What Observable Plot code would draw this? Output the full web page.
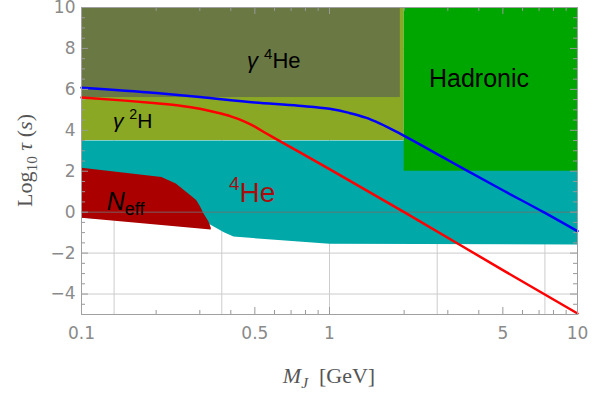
<!DOCTYPE html>
<html><head><meta charset="utf-8">
<script src="https://cdn.jsdelivr.net/npm/d3@7"></script>
<script src="https://cdn.jsdelivr.net/npm/@observablehq/plot@0.6"></script>
<style>body{margin:0;background:#fff} svg{display:block}</style>
</head><body><div id="chart"></div>
<script>
// ---- data (x = M_J in GeV, y = log10 tau in s) ----
const blueX = [0.1, 0.2, 0.3, 0.5, 0.75, 1, 1.2, 1.4, 1.6, 2, 3, 5, 7.3, 10];
const blueY = [6.08, 5.82, 5.63, 5.36, 5.2, 5.05, 4.85, 4.62, 4.33, 3.73, 2.55, 1.07, 0, -0.93];
const redX = [0.1, 0.15, 0.2, 0.25, 0.3, 0.35, 0.4, 0.45, 0.5, 0.55, 0.6, 1, 2, 5, 10];
const redY = [5.6, 5.45, 5.32, 5.2, 5.05, 4.87, 4.68, 4.45, 4.18, 3.88, 3.62, 2.1, 0, -2.83, -4.95];
// 4He excluded region (polygon)
const he4X = [0.1, 10, 10, 1, 0.53, 0.41, 0.375, 0.33, 0.1];
const he4Y = [3.5, 3.5, -1.58, -1.54, -1.3, -1.19, -0.98, -0.6, -0.27];
// N_eff excluded region (polygon)
const neffX = [0.1, 0.21, 0.24, 0.267, 0.29, 0.3, 0.31, 0.325, 0.332, 0.332, 0.1];
const neffY = [2.17, 1.72, 1.4, 0.95, 0.6, 0.3, -0.05, -0.45, -0.75, -0.85, -0.27];
// rectangular regions
const rectNames = ["γ²H", "γ⁴He", "Hadronic"];
const rectX1 = [0.1, 0.1, 2.0];
const rectX2 = [2.0, 1.93, 10];
const rectY1 = [3.5, 5.6, 2.0];
const rectY2 = [10, 10, 10];
// ticks / grid
const xMajorTicks = [0.1, 0.5, 1, 5, 10];
const xTickLabels = ["0.1", "0.5", "1", "5", "10"];
const xMinorTicks = [0.2, 0.3, 0.4, 0.6, 0.7, 0.8, 0.9, 2, 3, 4, 6, 7, 8, 9];
const yMajorTicks = [-4, -2, 0, 2, 4, 6, 8, 10];
const yMinorTicks = [-5, -4.5, -3.5, -3, -2.5, -1.5, -1, -0.5, 0.5, 1, 1.5, 2.5, 3, 3.5, 4.5, 5, 5.5, 6.5, 7, 7.5, 8.5, 9, 9.5];
const xGrid = [Math.exp(-2), Math.exp(-1), 1, Math.exp(1), Math.exp(2)];
const yGrid = [-4, -2, 2, 4, 6, 8];

// ---- styles ----
const rectColors = ["#8aa824", "#6a7844", "#00a600"];
const W = 605, H = 394, mL = 81, mR = 28, mT = 7, mB = 80;
const pw = W - mL - mR, ph = H - mT - mB;

const toPts = (xs, ys) => xs.map((x, i) => ({x, y: ys[i]}));
const rects = rectNames.map((n, i) => ({n, x1: rectX1[i], x2: rectX2[i], y1: rectY1[i], y2: rectY2[i], c: rectColors[i]}));
const xLab = xMajorTicks.map((v, i) => ({v, s: xTickLabels[i]}));
const minus = d => String(d).replace("-", "\u2212");

const chart = Plot.plot({
  width: W, height: H,
  marginLeft: mL, marginRight: mR, marginTop: mT, marginBottom: mB,
  x: {type: "log", domain: [0.1, 10], axis: null},
  y: {domain: [-5, 10]},
  style: {fontFamily: "DejaVu Sans", background: "#fff"},
  marks: [
    Plot.ruleX(xGrid, {stroke: "#cccccc", strokeWidth: 1}),
    Plot.ruleY(yGrid, {stroke: "#cccccc", strokeWidth: 1}),
    Plot.line(toPts(he4X, he4Y), {x: "x", y: "y", fill: "#00a8a8", stroke: "none", curve: "linear"}),
    Plot.rect(rects, {x1: "x1", x2: "x2", y1: "y1", y2: "y2", fill: "c"}),
    Plot.line(toPts(neffX, neffY), {x: "x", y: "y", fill: "#aa0000", stroke: "none", curve: "linear"}),
    Plot.ruleY([0], {stroke: "#6e6e6e", strokeOpacity: 0.85, strokeWidth: 1}),
    Plot.line(toPts(redX, redY), {x: "x", y: "y", stroke: "#ff0000", strokeWidth: 2.5, curve: "monotone-x"}),
    Plot.line(toPts(blueX, blueY), {x: "x", y: "y", stroke: "#0000ff", strokeWidth: 2.5, curve: "monotone-x"}),
    // inward ticks
    Plot.tickY(yMajorTicks, {insetRight: pw - 7, stroke: "#999"}),
    Plot.tickY(yMinorTicks, {insetRight: pw - 4, stroke: "#999"}),
    Plot.tickY(yMajorTicks, {insetLeft: pw - 7, stroke: "#999"}),
    Plot.tickY(yMinorTicks, {insetLeft: pw - 4, stroke: "#999"}),
    Plot.tickX(xMajorTicks, {insetTop: ph - 7, stroke: "#999"}),
    Plot.tickX(xMinorTicks, {insetTop: ph - 4, stroke: "#999"}),
    Plot.tickX(xMajorTicks, {insetBottom: ph - 7, stroke: "#999"}),
    Plot.tickX(xMinorTicks, {insetBottom: ph - 4, stroke: "#999"}),
    Plot.frame({stroke: "#a0a0a0"}),
    Plot.text(xLab, {x: "v", text: "s", frameAnchor: "bottom", dy: 19, lineAnchor: "middle", fontSize: 17, fill: "#8a8a8a"}),
    Plot.axisY(yMajorTicks, {tickSize: 0, tickPadding: 6, tickFormat: minus, fontSize: 17, color: "#8a8a8a", label: null})
  ]
});
document.getElementById("chart").appendChild(chart);

// ---- rich-text annotations ----
const sx = chart.scale("x"), sy = chart.scale("y");
const svg = d3.select(chart);
function rich(g, parts, size) {
  let shift = 0;
  for (const p of parts) {
    const t = g.append("tspan").text(p.t);
    let target = 0;
    let fs = size;
    if (p.sup) { target = -0.42 * size; fs = 0.68 * size; }
    if (p.sub) { target = p.sub * size; fs = (p.fs || 0.72) * size; }
    t.attr("font-size", fs);
    if (target !== shift) { t.attr("dy", target - shift); shift = target; }
    if (p.i) t.attr("font-style", "italic");
  }
}
const annotations = [
  {x: 0.467, y: 7.02, size: 22, color: "#000", parts: [{t: "γ", i: 1}, {t: "\u00a0"}, {t: "4", sup: 1}, {t: "He"}]},
  {x: 2.53, y: 6.09, size: 25, color: "#000", parts: [{t: "Hadronic"}]},
  {x: 0.1346, y: 4.09, size: 21, color: "#000", parts: [{t: "γ", i: 1}, {t: "\u00a0"}, {t: "2", sup: 1}, {t: "H"}]},
  {x: 0.127, y: 0.08, size: 25, color: "#000", parts: [{t: "N", i: 1}, {t: "eff", sub: 0.18, fs: 0.72}]},
  {x: 0.395, y: 0.47, size: 28, color: "#a80d0d", parts: [{t: "4", sup: 1}, {t: "He"}]}
];
for (const a of annotations) {
  const g = svg.append("text")
    .attr("x", sx.apply(a.x)).attr("y", sy.apply(a.y))
    .attr("text-anchor", "start")
    .attr("font-family", "Liberation Sans, Arial, sans-serif")
    .attr("fill", a.color);
  rich(g, a.parts, a.size);
}
// axis titles
const xt = svg.append("text").attr("x", mL + pw / 2).attr("y", 383)
  .attr("text-anchor", "middle").attr("font-family", "Liberation Serif, Times New Roman, serif").attr("fill", "#555");
rich(xt, [{t: "M", i: 1}, {t: "J", i: 1, sub: 0.22, fs: 0.7}, {t: "\u00a0\u00a0[GeV]"}], 22);
const yt = svg.append("text").attr("transform", `translate(32,${mT + ph / 2}) rotate(-90)`)
  .attr("text-anchor", "middle").attr("font-family", "Liberation Serif, Times New Roman, serif").attr("fill", "#555");
rich(yt, [{t: "Log"}, {t: "10", sub: 0.22, fs: 0.7}, {t: "\u00a0"}, {t: "τ", i: 1}, {t: "\u00a0("}, {t: "s", i: 1}, {t: ")"}], 22);
</script>
</body></html>
